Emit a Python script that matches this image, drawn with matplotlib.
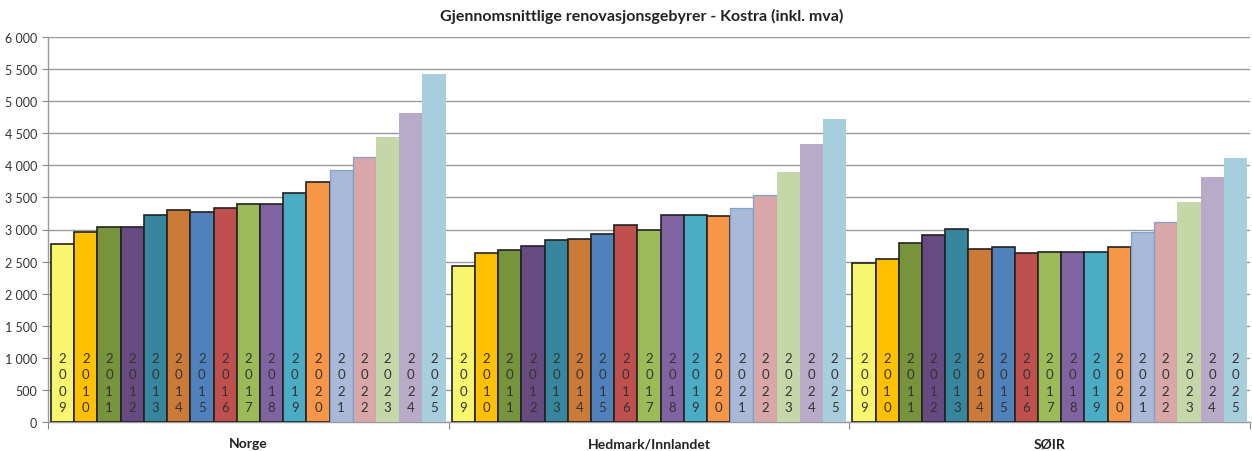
import matplotlib
matplotlib.use("Agg")
import matplotlib.pyplot as plt
from matplotlib.ticker import FuncFormatter

TITLE = "Gjennomsnittlige renovasjonsgebyrer - Kostra (inkl. mva)"
GROUPS = ["Norge", "Hedmark/Innlandet", "SØIR"]
YEARS = [str(y) for y in range(2009, 2026)]

# average fees per year, one list per region
norge = [2780, 2960, 3045, 3035, 3230, 3310, 3270, 3330, 3390, 3395,
         3570, 3745, 3920, 4130, 4445, 4815, 5420]
hedmark = [2435, 2630, 2675, 2745, 2835, 2855, 2930, 3075, 3000, 3225,
           3225, 3215, 3340, 3530, 3895, 4330, 4720]
soir = [2480, 2535, 2790, 2920, 3015, 2695, 2730, 2640, 2650, 2645,
        2645, 2730, 2955, 3115, 3430, 3820, 4115]

COLORS = ["#F8F56E", "#FFC000", "#77933C", "#664A80", "#36879E", "#CC7A38",
          "#4F81BD", "#C0504D", "#9BBB59", "#8064A2", "#4BACC6", "#F79646",
          "#A9B9D8", "#D9A7A8", "#C5D6A8", "#B7ABC9", "#A7CEDC"]
EDGES = ["#222222"] * 12 + ["#7EA1D0", "#7EA1D0", "none", "none", "none"]

W = 17.26
PAD = (W - 17) / 2

fig = plt.figure(figsize=(12.52, 4.52), dpi=100)
ax = fig.add_axes([48 / 1252, 1 - 423 / 452, 1202 / 1252, 385 / 452])

for g, vals in enumerate([norge, hedmark, soir]):
    xs = [g * W + PAD + i + 0.5 for i in range(len(vals))]
    for i, (x, v) in enumerate(zip(xs, vals)):
        lw = 1.2 if i < 12 else 0.9
        ax.bar(x, v, width=1.0, color=COLORS[i], edgecolor=EDGES[i],
               linewidth=lw if EDGES[i] != "none" else 0, zorder=3)
        ax.text(x, 615, "\n".join(YEARS[i]), ha="center", va="center",
                fontsize=9.5, color="#333333", linespacing=1.42,
                family="Lato", zorder=4)
    ax.text(g * W + W / 2, -240, GROUPS[g], ha="center", va="top",
            fontsize=10, fontweight="bold", family="Lato", color="#222222")

ax.set_xlim(0, 3 * W)
ax.set_ylim(0, 6000)
ax.set_yticks(range(0, 6001, 500))
ax.yaxis.set_major_formatter(FuncFormatter(lambda v, p: f"{int(v):,}".replace(",", " ")))
ax.set_xticks([0, W, 2 * W, 3 * W])
ax.set_xticklabels([])
ax.tick_params(axis="x", direction="out", length=5, color="#888888")
ax.tick_params(axis="y", direction="out", length=4, color="#888888",
               labelsize=9, labelcolor="#333333", pad=4)
for lbl in ax.get_yticklabels():
    lbl.set_family("Lato")

ax.grid(axis="y", color="#999999", linewidth=1.0, zorder=0)
for s in ["top", "right"]:
    ax.spines[s].set_visible(False)
for s in ["left", "bottom"]:
    ax.spines[s].set_color("#999999")
    ax.spines[s].set_linewidth(1.0)

fig.text(642 / 1252, 1 - 16 / 452, TITLE, ha="center", va="center",
         fontsize=11.5, fontweight="bold", family="Lato", color="#222222")

fig.savefig("out.png", dpi=100)
